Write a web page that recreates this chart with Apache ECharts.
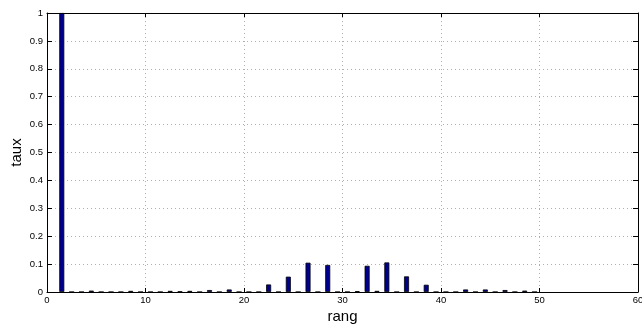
<!DOCTYPE html>
<html>
<head>
<meta charset="utf-8">
<script src="https://cdn.jsdelivr.net/npm/echarts@6/dist/echarts.min.js"></script>
<style>
  html, body { margin: 0; padding: 0; background: #fff; }
  #chart { width: 642px; height: 328px; }
</style>
</head>
<body>
<div id="chart"></div>
<script>
// bar centres on the "rang" axis
const rang = [
  1.5, 2.5, 3.5, 4.5, 5.5, 6.5, 7.5, 8.5, 9.5, 10.5,
  11.5, 12.5, 13.5, 14.5, 15.5, 16.5, 17.5, 18.5, 19.5, 20.5,
  21.5, 22.5, 23.5, 24.5, 25.5, 26.5, 27.5, 28.5, 29.5, 30.5,
  31.5, 32.5, 33.5, 34.5, 35.5, 36.5, 37.5, 38.5, 39.5, 40.5,
  41.5, 42.5, 43.5, 44.5, 45.5, 46.5, 47.5, 48.5, 49.5,
];
// taux for each rang
const taux = [
  1, 0, 0, 0.005, 0, 0, 0, 0.004, 0, 0,
  0, 0.004, 0.002, 0.004, 0, 0.007, 0, 0.009, 0, 0,
  0, 0.027, 0, 0.055, 0, 0.105, 0, 0.097, 0, 0,
  0.003, 0.094, 0.004, 0.106, 0, 0.056, 0, 0.026, 0, 0,
  0, 0.009, 0, 0.009, 0, 0.007, 0, 0.005, 0,
];
const xTicks = [0, 10, 20, 30, 40, 50, 60];
const yTicks = [0, 0.1, 0.2, 0.3, 0.4, 0.5, 0.6, 0.7, 0.8, 0.9, 1];

const chart = echarts.init(document.getElementById('chart'));
const font = 'Liberation Sans, Arial, sans-serif';

const dotted = {
  show: true,
  lineStyle: { color: '#b0b0b0', type: [1, 3], width: 1 },
};

const option = {
  animation: false,
  backgroundColor: '#fff',
  grid: { left: 47, right: 4, top: 13, bottom: 36, containLabel: false, outerBoundsMode: 'none' },
  xAxis: [
    {
      type: 'value',
      min: xTicks[0],
      max: xTicks[xTicks.length - 1],
      interval: 10,
      name: 'rang',
      nameLocation: 'middle',
      nameGap: 17,
      nameMoveOverlap: false,
      nameTextStyle: { fontFamily: font, fontSize: 15, color: '#000' },
      axisLine: { show: true, onZero: false, lineStyle: { color: '#000', width: 1 } },
      axisTick: { show: true, inside: true, length: 4, lineStyle: { color: '#000' } },
      axisLabel: { fontFamily: font, fontSize: 9.5, color: '#000', margin: 3 },
      splitLine: dotted,
    },
    {
      type: 'value',
      position: 'top',
      min: xTicks[0],
      max: xTicks[xTicks.length - 1],
      interval: 10,
      axisLine: { show: true, onZero: false, lineStyle: { color: '#000', width: 1 } },
      axisTick: { show: true, inside: true, length: 4, lineStyle: { color: '#000' } },
      axisLabel: { show: false },
      splitLine: { show: false },
    },
  ],
  yAxis: [
    {
      type: 'value',
      min: yTicks[0],
      max: yTicks[yTicks.length - 1],
      interval: 0.1,
      name: 'taux',
      nameLocation: 'middle',
      nameGap: 23,
      nameMoveOverlap: false,
      nameTextStyle: { fontFamily: font, fontSize: 15, color: '#000' },
      axisLine: { show: true, onZero: false, lineStyle: { color: '#000', width: 1 } },
      axisTick: { show: true, inside: true, length: 5, lineStyle: { color: '#000' } },
      axisLabel: { fontFamily: font, fontSize: 9.5, color: '#000', margin: 4 },
      splitLine: dotted,
    },
    {
      type: 'value',
      position: 'right',
      min: yTicks[0],
      max: yTicks[yTicks.length - 1],
      interval: 0.1,
      axisLine: { show: true, onZero: false, lineStyle: { color: '#000', width: 1 } },
      axisTick: { show: true, inside: true, length: 5, lineStyle: { color: '#000' } },
      axisLabel: { show: false },
      splitLine: { show: false },
    },
  ],
  series: [
    {
      type: 'bar',
      xAxisIndex: 0,
      yAxisIndex: 0,
      barWidth: 5,
      itemStyle: { color: '#00008f', borderColor: '#000', borderWidth: 0.8 },
      data: rang.map((r, i) => [r, taux[i]]),
    },
  ],
};

chart.setOption(option);
</script>
</body>
</html>
